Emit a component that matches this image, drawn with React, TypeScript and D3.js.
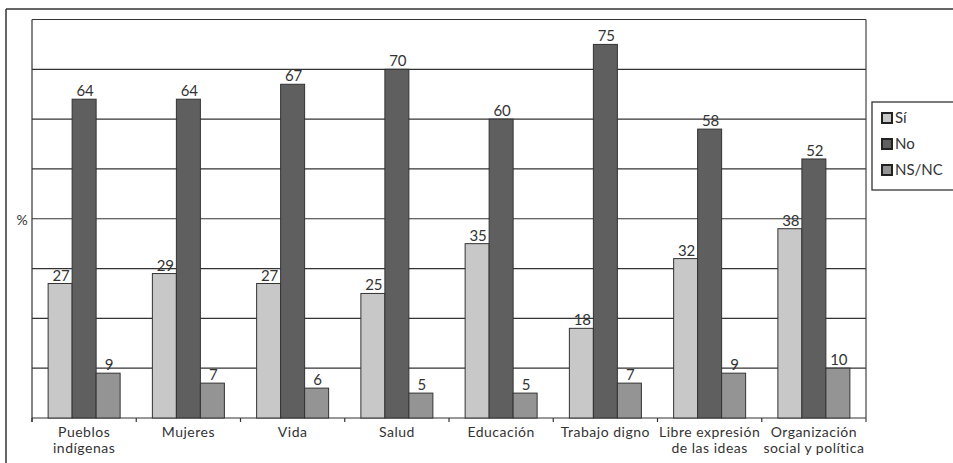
import React from "react";
import * as d3 from "d3";

const categories = [
  ["Pueblos", "indígenas"],
  ["Mujeres"],
  ["Vida"],
  ["Salud"],
  ["Educación"],
  ["Trabajo digno"],
  ["Libre expresión", "de las ideas"],
  ["Organización", "social y política"],
];
const seriesNames = ["Sí", "No", "NS/NC"];
const si = [27, 29, 27, 25, 35, 18, 32, 38];
const no = [64, 64, 67, 70, 60, 75, 58, 52];
const nsnc = [9, 7, 6, 5, 5, 7, 9, 10];
const yTicks = [0, 10, 20, 30, 40, 50, 60, 70, 80];
const colors = ["#c8c8c8", "#5f5f5f", "#949494"];

export default function App() {
  const W = 953, H = 463;
  const left = 32, right = 866, top = 19.5, bottom = 418;
  const font = "Lato, 'Noto Sans', sans-serif";
  const x = d3.scaleBand().domain(categories.map((_, i) => String(i))).range([left, right]).padding(0);
  const y = d3.scaleLinear().domain([0, 80]).range([bottom, top]);
  const series = [si, no, nsnc];
  const barW = 24;
  return (
    <svg width={W} height={H} style={{ position: "absolute", left: 0, top: 0, background: "#fff" }}>
      <rect x={0} y={0} width={W} height={H} fill="#fff" />
      <line x1={6} x2={W} y1={9} y2={9} stroke="#333" strokeWidth={1.5} />
      <line x1={6} x2={6} y1={9} y2={H} stroke="#333" strokeWidth={1.5} />
      {yTicks.map((t) => (
        <line key={t} x1={left} x2={right} y1={y(t)} y2={y(t)} stroke="#333" strokeWidth={1.2} />
      ))}
      <line x1={left} x2={left} y1={top} y2={bottom + 4} stroke="#333" strokeWidth={1.2} />
      <line x1={right} x2={right} y1={top} y2={bottom + 4} stroke="#444" strokeWidth={1.2} />
      {categories.map((_, i) => (
        <line key={i} x1={x(String(i))!} x2={x(String(i))!} y1={bottom} y2={bottom + 4} stroke="#333" strokeWidth={1.2} />
      ))}
      <text x={22} y={225} fontFamily={font} fontSize={14} fill="#333" textAnchor="middle">%</text>
      {categories.map((lines, i) => {
        const cx = x(String(i))! + x.bandwidth() / 2;
        const start = cx - (barW * 3) / 2;
        return (
          <g key={i}>
            {series.map((s, k) => (
              <g key={k}>
                <rect x={start + k * barW} y={y(s[i])} width={barW} height={bottom - y(s[i])}
                  fill={colors[k]} stroke="#333" strokeWidth={1} />
                <text x={start + k * barW + barW / 2 + 1} y={y(s[i]) - 3} fontFamily={font} fontSize={15}
                  fill="#333" textAnchor="middle">{s[i]}</text>
              </g>
            ))}
            {lines.map((l, j) => (
              <text key={j} x={cx} y={436.5 + j * 16.8} fontFamily={font} fontSize={14} letterSpacing={0.5}
                fill="#333" textAnchor="middle">{l}</text>
            ))}
          </g>
        );
      })}
      <rect x={872} y={102} width={90} height={88} fill="#fff" stroke="#333" strokeWidth={1.3} />
      {seriesNames.map((n, k) => (
        <g key={n}>
          <rect x={882} y={113 + k * 26} width={10} height={10} fill={colors[k]} stroke="#222" strokeWidth={2} />
          <text x={895} y={123 + k * 26} fontFamily={font} fontSize={15} fill="#333">{n}</text>
        </g>
      ))}
    </svg>
  );
}
